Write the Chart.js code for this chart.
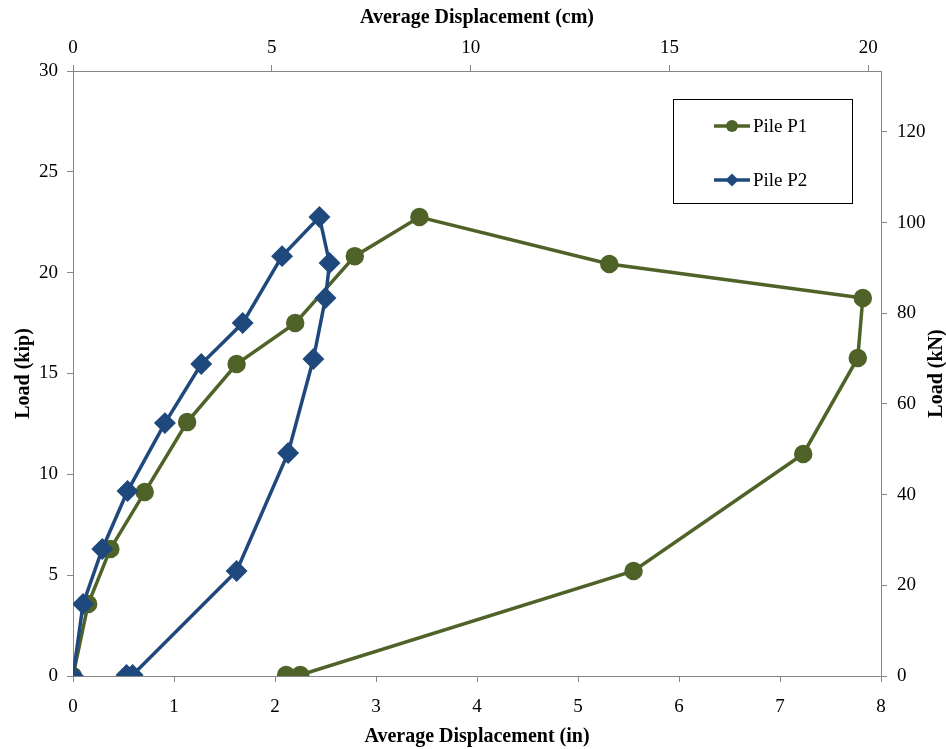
<!DOCTYPE html>
<html>
<head>
<meta charset="utf-8">
<script src="https://cdn.jsdelivr.net/npm/chart.js@4/dist/chart.umd.min.js"></script>
<style>
  html, body { margin: 0; padding: 0; background: #ffffff; }
  canvas { display: block; }
</style>
</head>
<body>
<canvas id="c" width="946" height="749"></canvas>
<script>
// ---- Data ----
const seriesNames = ["Pile P1", "Pile P2"];
// Pile P1: average displacement (in) and load (kip)
const p1Disp = [0, 0.15, 0.37, 0.71, 1.13, 1.62, 2.20, 2.79, 3.43, 5.31, 7.82, 7.77, 7.23, 5.55, 2.25, 2.11];
const p1Load = [0, 3.57, 6.30, 9.12, 12.59, 15.47, 17.50, 20.82, 22.76, 20.43, 18.74, 15.77, 11.01, 5.21, 0.05, 0.05];
// Pile P2
const p2Disp = [0, 0.10, 0.29, 0.54, 0.91, 1.27, 1.68, 2.07, 2.44, 2.54, 2.50, 2.38, 2.13, 1.62, 0.59, 0.53];
const p2Load = [0, 3.57, 6.30, 9.17, 12.54, 15.47, 17.50, 20.82, 22.76, 20.48, 18.74, 15.72, 11.06, 5.21, 0.05, 0.05];

const inchMax = 8, kipMax = 30;
const CM_PER_IN = 2.54, KN_PER_KIP = 4.448222;
const titles = {
  bottom: "Average Displacement (in)",
  top: "Average Displacement (cm)",
  left: "Load (kip)",
  right: "Load (kN)"
};

const GREEN = "#4F6228";
const BLUE = "#1F497D";
const AXIS = "#868686";
const SERIF = "'Liberation Serif', 'Times New Roman', serif";

function pts(xs, ys) { return xs.map((x, i) => ({ x: x, y: ys[i] })); }

// Legend drawn inside the plot, in a bordered box; right-axis title read bottom-to-top
const boxLegend = {
  id: "boxLegend",
  afterDraw(chart) {
    const ctx = chart.ctx;
    const x0 = 673, y0 = 99, w = 179, h = 104;
    ctx.save();
    ctx.fillStyle = "#ffffff";
    ctx.fillRect(x0, y0, w, h);
    ctx.strokeStyle = "#000000";
    ctx.lineWidth = 1;
    ctx.strokeRect(x0 + 0.5, y0 + 0.5, w, h);
    const rows = [126, 180];
    chart.data.datasets.forEach((ds, i) => {
      const y = rows[i];
      ctx.strokeStyle = ds.borderColor;
      ctx.lineWidth = 3.5;
      ctx.beginPath();
      ctx.moveTo(714, y);
      ctx.lineTo(750, y);
      ctx.stroke();
      ctx.fillStyle = ds.pointBackgroundColor;
      ctx.beginPath();
      if (ds.pointStyle === "circle") {
        ctx.arc(732, y, 6, 0, Math.PI * 2);
      } else {
        ctx.moveTo(732, y - 6.5);
        ctx.lineTo(738.5, y);
        ctx.lineTo(732, y + 6.5);
        ctx.lineTo(725.5, y);
        ctx.closePath();
      }
      ctx.fill();
      ctx.fillStyle = "#000000";
      ctx.font = "19px " + SERIF;
      ctx.textBaseline = "middle";
      ctx.textAlign = "left";
      ctx.fillText(ds.label, 753, y + 1);
    });
    ctx.restore();

    // right axis title, rotated like the left one
    const ca = chart.chartArea;
    ctx.save();
    ctx.translate(937, (ca.top + ca.bottom) / 2);
    ctx.rotate(-Math.PI / 2);
    ctx.font = "bold 20px " + SERIF;
    ctx.fillStyle = "#000";
    ctx.textAlign = "center";
    ctx.textBaseline = "middle";
    ctx.fillText(titles.right, 0, 0);
    ctx.restore();
  }
};

const tickFont = { family: SERIF, size: 19 };
const titleFont = { family: SERIF, size: 20, weight: "bold" };
const gridCfg = { drawOnChartArea: false, drawTicks: true, tickLength: 6, color: AXIS, lineWidth: 1 };
const borderCfg = { display: true, color: AXIS, width: 1 };

new Chart(document.getElementById("c"), {
  type: "scatter",
  data: {
    datasets: [
      {
        label: seriesNames[0],
        data: pts(p1Disp, p1Load),
        showLine: true,
        borderColor: GREEN,
        backgroundColor: GREEN,
        pointBackgroundColor: GREEN,
        pointBorderColor: GREEN,
        borderWidth: 3.5,
        pointStyle: "circle",
        pointRadius: 7.5,
        pointHoverRadius: 7.5,
        xAxisID: "x",
        yAxisID: "y",
        order: 2
      },
      {
        label: seriesNames[1],
        data: pts(p2Disp, p2Load),
        showLine: true,
        borderColor: BLUE,
        backgroundColor: BLUE,
        pointBackgroundColor: BLUE,
        pointBorderColor: BLUE,
        borderWidth: 3.5,
        pointStyle: "rectRot",
        pointRadius: 8.5,
        pointHoverRadius: 8.5,
        xAxisID: "x",
        yAxisID: "y",
        order: 1
      }
    ]
  },
  options: {
    responsive: false,
    animation: false,
    devicePixelRatio: 1,
    layout: { padding: 0 },
    plugins: {
      legend: { display: false },
      tooltip: { enabled: false },
      title: { display: false }
    },
    scales: {
      x: {
        type: "linear", position: "bottom", min: 0, max: inchMax,
        ticks: { stepSize: 1, includeBounds: false, font: tickFont, color: "#000", padding: 14, maxRotation: 0 },
        grid: gridCfg, border: borderCfg,
        title: { display: true, text: titles.bottom, font: titleFont, color: "#000", padding: { top: 0, bottom: 0 } },
        afterFit(s) { s.height = 73; }
      },
      x2: {
        type: "linear", position: "top", min: 0, max: inchMax * CM_PER_IN,
        ticks: { stepSize: 5, includeBounds: false, font: tickFont, color: "#000", padding: 6, maxRotation: 0 },
        grid: gridCfg, border: borderCfg,
        title: { display: true, text: titles.top, font: titleFont, color: "#000", padding: { top: 6, bottom: 0 } },
        afterFit(s) { s.height = 71; }
      },
      y: {
        type: "linear", position: "left", min: 0, max: kipMax,
        ticks: { stepSize: 5, includeBounds: false, font: tickFont, color: "#000", padding: 9 },
        grid: gridCfg, border: borderCfg,
        title: { display: true, text: titles.left, font: titleFont, color: "#000", padding: { top: 12, bottom: 0 } },
        afterFit(s) { s.width = 73; }
      },
      y2: {
        type: "linear", position: "right", min: 0, max: kipMax * KN_PER_KIP,
        ticks: { stepSize: 20, includeBounds: false, font: tickFont, color: "#000", padding: 10 },
        grid: gridCfg, border: borderCfg,
        title: { display: false },
        afterFit(s) { s.width = 65; }
      }
    }
  },
  plugins: [boxLegend]
});
</script>
</body>
</html>
